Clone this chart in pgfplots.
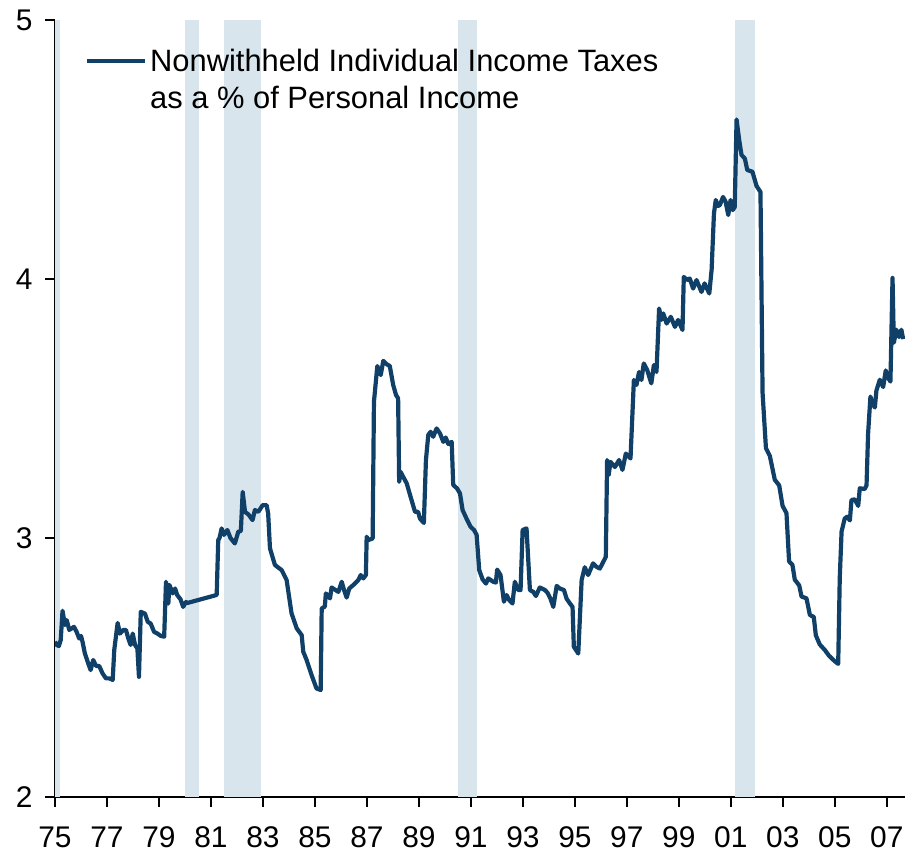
\documentclass[border=0pt]{standalone}
\usepackage{fontspec}
\setmainfont{Liberation Sans}
\usepackage{pgfplots}
\usepackage{pgfplotstable}
\pgfplotsset{compat=1.18}
\definecolor{navy}{RGB}{16,64,104}
\definecolor{shade}{RGB}{217,229,236}
\pgfplotstableread{
x y
1975.00 2.600
1975.06 2.587
1975.15 2.583
1975.22 2.606
1975.29 2.719
1975.38 2.664
1975.45 2.683
1975.55 2.645
1975.64 2.651
1975.73 2.657
1975.83 2.638
1975.93 2.612
1976.00 2.622
1976.06 2.599
1976.15 2.554
1976.28 2.515
1976.37 2.490
1976.47 2.529
1976.58 2.506
1976.70 2.506
1976.83 2.477
1976.96 2.458
1977.09 2.458
1977.22 2.452
1977.28 2.568
1977.41 2.672
1977.50 2.631
1977.63 2.645
1977.73 2.645
1977.82 2.612
1977.91 2.587
1977.99 2.631
1978.08 2.587
1978.17 2.573
1978.23 2.464
1978.30 2.715
1978.46 2.708
1978.57 2.676
1978.68 2.670
1978.81 2.638
1978.94 2.631
1979.07 2.622
1979.20 2.619
1979.27 2.831
1979.36 2.747
1979.40 2.819
1979.53 2.786
1979.62 2.805
1979.70 2.780
1979.83 2.763
1979.93 2.734
1980.04 2.753
1980.09 2.749
1981.22 2.780
1981.28 2.992
1981.33 3.000
1981.41 3.037
1981.50 3.012
1981.63 3.031
1981.75 3.000
1981.92 2.979
1982.05 3.024
1982.15 3.027
1982.22 3.178
1982.31 3.101
1982.45 3.090
1982.60 3.069
1982.69 3.108
1982.82 3.101
1982.99 3.127
1983.14 3.127
1983.20 3.095
1983.27 2.960
1983.46 2.896
1983.60 2.885
1983.72 2.876
1983.91 2.838
1984.10 2.709
1984.30 2.651
1984.49 2.625
1984.55 2.561
1984.68 2.529
1984.87 2.471
1985.06 2.419
1985.22 2.413
1985.26 2.728
1985.38 2.735
1985.42 2.786
1985.58 2.767
1985.64 2.809
1985.90 2.792
1986.03 2.831
1986.12 2.799
1986.22 2.770
1986.32 2.805
1986.47 2.818
1986.67 2.838
1986.76 2.857
1986.86 2.844
1986.96 2.857
1986.99 3.005
1987.05 2.992
1987.22 2.998
1987.27 3.526
1987.40 3.664
1987.53 3.629
1987.63 3.684
1987.76 3.671
1987.88 3.664
1988.01 3.591
1988.12 3.552
1988.20 3.539
1988.24 3.217
1988.29 3.256
1988.53 3.211
1988.68 3.159
1988.85 3.101
1988.97 3.101
1989.04 3.075
1989.19 3.058
1989.27 3.301
1989.36 3.398
1989.45 3.410
1989.55 3.391
1989.68 3.423
1989.81 3.404
1989.94 3.371
1990.03 3.388
1990.13 3.363
1990.26 3.371
1990.32 3.205
1990.47 3.191
1990.58 3.172
1990.68 3.108
1990.83 3.075
1990.99 3.043
1991.12 3.031
1991.22 3.012
1991.32 2.876
1991.45 2.840
1991.58 2.824
1991.67 2.844
1991.86 2.831
1991.96 2.828
1992.01 2.878
1992.14 2.857
1992.27 2.754
1992.37 2.780
1992.47 2.761
1992.60 2.747
1992.69 2.831
1992.82 2.799
1992.91 2.799
1992.99 3.031
1993.14 3.037
1993.27 2.799
1993.40 2.792
1993.50 2.776
1993.65 2.809
1993.85 2.799
1993.95 2.788
1994.06 2.766
1994.17 2.734
1994.30 2.815
1994.42 2.805
1994.58 2.799
1994.68 2.766
1994.81 2.747
1994.91 2.734
1994.96 2.580
1995.13 2.554
1995.26 2.838
1995.38 2.887
1995.51 2.857
1995.70 2.902
1995.83 2.889
1995.96 2.882
1996.19 2.927
1996.24 3.301
1996.30 3.243
1996.37 3.294
1996.54 3.274
1996.70 3.301
1996.83 3.263
1996.96 3.326
1997.14 3.307
1997.27 3.610
1997.37 3.591
1997.47 3.641
1997.56 3.610
1997.65 3.674
1997.78 3.649
1997.94 3.597
1998.04 3.668
1998.14 3.641
1998.24 3.886
1998.33 3.842
1998.40 3.867
1998.53 3.828
1998.69 3.854
1998.85 3.815
1998.97 3.842
1999.14 3.803
1999.19 4.008
1999.32 3.996
1999.42 4.002
1999.55 3.963
1999.68 3.996
1999.87 3.950
1999.99 3.983
2000.17 3.944
2000.26 4.035
2000.35 4.253
2000.42 4.305
2000.51 4.282
2000.58 4.286
2000.70 4.317
2000.80 4.298
2000.90 4.247
2000.99 4.305
2001.07 4.266
2001.15 4.278
2001.22 4.616
2001.32 4.537
2001.41 4.479
2001.54 4.465
2001.63 4.421
2001.83 4.414
2001.99 4.359
2002.14 4.336
2002.22 3.561
2002.35 3.347
2002.50 3.317
2002.69 3.225
2002.86 3.203
2002.99 3.124
2003.14 3.096
2003.24 2.910
2003.37 2.896
2003.46 2.839
2003.63 2.817
2003.72 2.774
2003.91 2.767
2004.04 2.703
2004.19 2.695
2004.27 2.624
2004.42 2.589
2004.62 2.567
2004.78 2.545
2005.00 2.524
2005.13 2.514
2005.19 2.846
2005.26 3.025
2005.38 3.075
2005.47 3.082
2005.58 3.068
2005.64 3.147
2005.77 3.149
2005.90 3.124
2005.96 3.192
2006.15 3.189
2006.22 3.203
2006.28 3.403
2006.37 3.546
2006.45 3.518
2006.54 3.504
2006.60 3.569
2006.73 3.611
2006.86 3.583
2006.96 3.647
2007.05 3.618
2007.14 3.604
2007.22 4.004
2007.27 3.754
2007.37 3.804
2007.47 3.776
2007.56 3.804
2007.63 3.768
}\taxdata
\begin{document}
\begin{tikzpicture}
\path[use as bounding box] (0,0) rectangle (905bp,856bp);
\begin{axis}[
  at={(55bp,59bp)}, anchor=south west,
  scale only axis, width=850bp, height=777bp,
  xmin=1975, xmax=2007.7, ymin=2, ymax=5,
  axis x line*=bottom, axis y line*=left,
  xtick={1975,1977,...,2007},
  xticklabels={75,77,79,81,83,85,87,89,91,93,95,97,99,01,03,05,07},
  ytick={2,3,4,5},
  tick align=outside, major tick length=10bp,
  tick style={black, line width=1.5bp},
  axis line style={black, line width=1.5bp},
  ticklabel style={font=\fontsize{30}{36}\selectfont},
  xticklabel style={yshift=-16bp},
  yticklabel style={xshift=-9bp},
  /pgf/number format/assume math mode=true,
  legend style={draw=none, fill=none, at={(axis description cs:0.035,0.967)}, anchor=north west,
    font=\fontsize{31}{37}\selectfont, inner sep=0pt, row sep=7bp, nodes={inner sep=3bp}},
  legend cell align=left,
  legend image code/.code={\draw[#1] (0bp,0bp) -- (58bp,0bp);},
]
\addplot[fill=shade, draw=none, forget plot] coordinates {(1975,2) (1975,5) (1975.2,5) (1975.2,2)} -- cycle;
\addplot[fill=shade, draw=none, forget plot] coordinates {(1980,2) (1980,5) (1980.55,5) (1980.55,2)} -- cycle;
\addplot[fill=shade, draw=none, forget plot] coordinates {(1981.5,2) (1981.5,5) (1982.92,5) (1982.92,2)} -- cycle;
\addplot[fill=shade, draw=none, forget plot] coordinates {(1990.5,2) (1990.5,5) (1991.25,5) (1991.25,2)} -- cycle;
\addplot[fill=shade, draw=none, forget plot] coordinates {(2001.17,2) (2001.17,5) (2001.92,5) (2001.92,2)} -- cycle;
\addplot[navy, line width=4.2bp, line join=round] table[x=x,y=y] {\taxdata};
\addlegendentry{Nonwithheld Individual Income Taxes}
\addlegendimage{empty legend}
\addlegendentry{as a \% of Personal Income}
\end{axis}
\end{tikzpicture}
\end{document}
